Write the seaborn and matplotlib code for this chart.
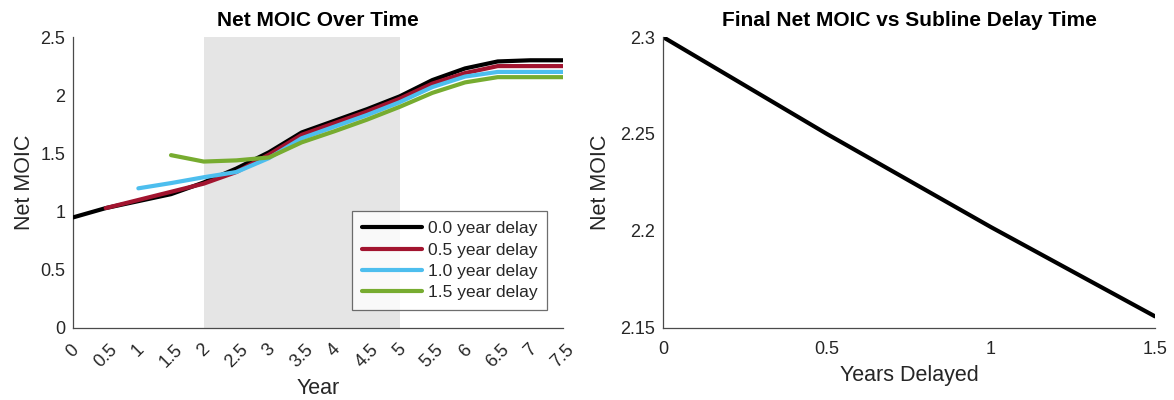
import numpy as np
import pandas as pd
import matplotlib
matplotlib.use("Agg")
import matplotlib.pyplot as plt
import matplotlib.transforms as mtransforms
import seaborn as sns

# Net MOIC by year for each subline delay
years = [0, 0.5, 1, 1.5, 2, 2.5, 3, 3.5, 4, 4.5, 5, 5.5, 6, 6.5, 7, 7.5]
moic_delay_00 = [0.95, 1.03, 1.09, 1.15, 1.25, 1.37, 1.51, 1.68, 1.78, 1.88, 1.99, 2.13, 2.23, 2.29, 2.30, 2.30]
moic_delay_05 = [None, 1.03, 1.10, 1.17, 1.24, 1.34, 1.49, 1.66, 1.76, 1.86, 1.97, 2.10, 2.19, 2.25, 2.25, 2.25]
moic_delay_10 = [None, None, 1.20, 1.245, 1.295, 1.34, 1.46, 1.63, 1.73, 1.83, 1.94, 2.07, 2.16, 2.20, 2.20, 2.20]
moic_delay_15 = [None, None, None, 1.485, 1.43, 1.44, 1.465, 1.595, 1.69, 1.79, 1.90, 2.02, 2.11, 2.155, 2.155, 2.155]
series_labels = ["0.0 year delay", "0.5 year delay", "1.0 year delay", "1.5 year delay"]
series_colors = ["#000000", "#A2142F", "#4DBEEE", "#77AC30"]

# Final Net MOIC per delay
delays = [0, 0.5, 1, 1.5]
final_moic = [2.30, 2.25, 2.202, 2.156]

# Highlighted window
window_start, window_end = 2, 5

sns.set_style("white")
plt.rcParams["font.family"] = ["Liberation Sans", "DejaVu Sans"]
axis_gray = "#4a4a4a"
text_gray = "#262626"
plt.rcParams.update({
    "axes.edgecolor": axis_gray,
    "xtick.color": axis_gray,
    "ytick.color": axis_gray,
    "xtick.labelcolor": text_gray,
    "ytick.labelcolor": text_gray,
    "axes.labelcolor": text_gray,
    "axes.linewidth": 0.9,
})

rows = []
for label, vals in zip(series_labels, [moic_delay_00, moic_delay_05, moic_delay_10, moic_delay_15]):
    for x, v in zip(years, vals):
        if v is not None:
            rows.append({"Year": x, "Net MOIC": v, "Delay": label})
df = pd.DataFrame(rows)
df_final = pd.DataFrame({"Years Delayed": delays, "Net MOIC": final_moic})

fig = plt.figure(figsize=(11.74, 4.0), dpi=100)
ax1 = fig.add_axes([0.0622, 0.18, 0.4174, 0.7275])
ax2 = fig.add_axes([0.5647, 0.18, 0.4191, 0.7275])

ax1.axvspan(window_start, window_end, color="#E5E5E5", lw=0, zorder=0)
sns.lineplot(data=df, x="Year", y="Net MOIC", hue="Delay", hue_order=series_labels,
             palette=series_colors, linewidth=3, ax=ax1, zorder=3)
ax1.set_xlim(0, 7.5)
ax1.set_ylim(0, 2.5)
ax1.set_xticks(years)
ax1.set_xticklabels([f"{y:g}" for y in years], rotation=45, ha="center")
# nudge the rotated year labels slightly to the right of their ticks
shift = mtransforms.ScaledTranslation(4 / 100, 0, fig.dpi_scale_trans)
for lbl in ax1.get_xticklabels():
    lbl.set_transform(lbl.get_transform() + shift)
ax1.set_yticks([0, 0.5, 1, 1.5, 2, 2.5])
ax1.set_yticklabels(["0", "0.5", "1", "1.5", "2", "2.5"])
ax1.set_xlabel("Year", fontsize=15.5, labelpad=5)
ax1.set_ylabel("Net MOIC", fontsize=15.5, labelpad=4)
ax1.set_title("Net MOIC Over Time", fontsize=15, fontweight="bold", color="black", pad=8)
leg = ax1.legend(loc="lower right", bbox_to_anchor=(0.967, 0.062), fontsize=12.5,
                 frameon=True, fancybox=False, edgecolor=axis_gray, handlelength=3.5,
                 handletextpad=0.3, borderpad=0.55, labelspacing=0.36, borderaxespad=0)
leg.get_frame().set_linewidth(0.9)
for h in leg.get_lines():
    h.set_linewidth(3)

sns.lineplot(data=df_final, x="Years Delayed", y="Net MOIC", color="black", linewidth=3, ax=ax2)
ax2.set_xlim(0, 1.5)
ax2.set_ylim(2.15, 2.3)
ax2.set_xticks([0, 0.5, 1, 1.5])
ax2.set_xticklabels(["0", "0.5", "1", "1.5"])
ax2.set_yticks([2.15, 2.2, 2.25, 2.3])
ax2.set_yticklabels(["2.15", "2.2", "2.25", "2.3"])
ax2.set_xlabel("Years Delayed", fontsize=15.5, labelpad=5)
ax2.set_ylabel("Net MOIC", fontsize=15.5, labelpad=7)
ax2.set_title("Final Net MOIC vs Subline Delay Time", fontsize=15, fontweight="bold", color="black", pad=8)

for ax in (ax1, ax2):
    sns.despine(ax=ax)
    ax.tick_params(direction="in", length=5, width=0.9, labelsize=13)
    ax.tick_params(axis="y", pad=5.5)
    ax.tick_params(axis="x", pad=9.5)
    ax.set_axisbelow(False)

fig.savefig("out.png", dpi=100)
